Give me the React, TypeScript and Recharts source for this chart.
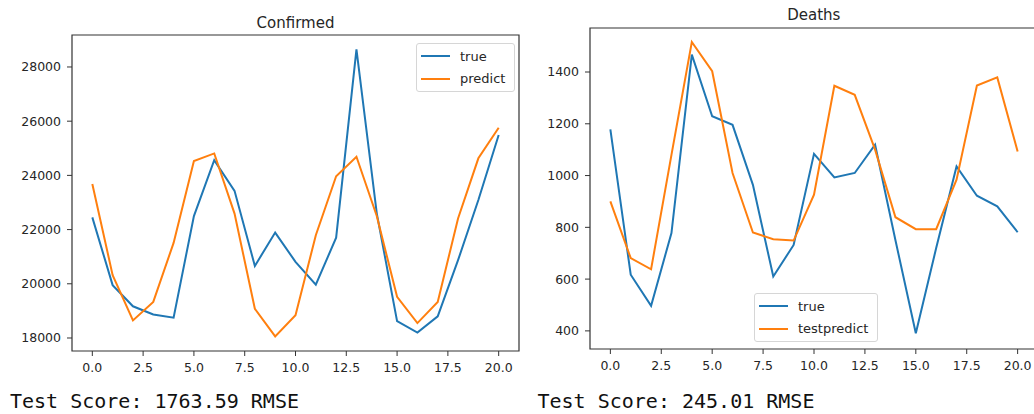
import { LineChart, Line, XAxis, YAxis, Legend, ReferenceArea } from 'recharts'

const steps = [0, 1, 2, 3, 4, 5, 6, 7, 8, 9, 10, 11, 12, 13, 14, 15, 16, 17, 18, 19, 20]
const xTicks = [0, 2.5, 5, 7.5, 10, 12.5, 15, 17.5, 20]

const confirmedTrue = [
  22450, 19950, 19170, 18870, 18750, 22500, 24560, 23430, 20660, 21890, 20810,
  19970, 21700, 28650, 22600, 18620, 18200, 18800, 20870, 23090, 25490,
]
const confirmedPredict = [
  23680, 20320, 18650, 19330, 21510, 24530, 24810, 22590, 19080, 18060, 18840,
  21790, 23970, 24690, 22500, 19520, 18550, 19330, 22410, 24630, 25760,
]
const confirmedTicks = [18000, 20000, 22000, 24000, 26000, 28000]

const deathsTrue = [
  1178, 617, 497, 778, 1467, 1229, 1196, 964, 610, 732, 1084, 993, 1010, 1119,
  750, 391, 720, 1035, 922, 881, 781,
]
const deathsPredict = [
  900, 681, 638, 1080, 1516, 1403, 1010, 780, 754, 749, 926, 1347, 1312, 1100,
  839, 793, 793, 984, 1348, 1379, 1093,
]
const deathsTicks = [400, 600, 800, 1000, 1200, 1400]

const BLUE = '#1f77b4'
const ORANGE = '#ff7f0e'
const INK = '#262626'
const FRAME = '#333'
const FONT = '"DejaVu Sans", sans-serif'
const SERIES_ORDER = ['true', 'predict']

type Row = { x: number; true: number; predict: number }

function buildRows(t: number[], p: number[]): Row[] {
  return steps.map((x, i) => ({ x, true: t[i], predict: p[i] }))
}

function LegendBox({ payload }: { payload?: { value: string; color: string; dataKey?: string }[] }) {
  if (!payload) return null
  // keep matplotlib's plotting order, not the alphabetical one
  const items = [...payload].sort(
    (a, b) => SERIES_ORDER.indexOf(String(a.dataKey)) - SERIES_ORDER.indexOf(String(b.dataKey)),
  )
  return (
    <div
      style={{
        display: 'inline-block',
        background: 'rgba(255,255,255,0.8)',
        border: '1px solid #d6d6d6',
        borderRadius: 3,
        padding: '1px 9px 1px 4px',
        fontFamily: FONT,
        fontSize: 13,
        color: INK,
      }}
    >
      {items.map((item) => (
        <div key={item.value} style={{ display: 'flex', alignItems: 'center', height: 22.6 }}>
          <span style={{ width: 29, height: 2, background: item.color, marginRight: 10 }} />
          <span>{item.value}</span>
        </div>
      ))}
    </div>
  )
}

type PanelProps = {
  left: number
  top: number
  data: Row[]
  domain: [number, number]
  yTicks: number[]
  margin: { top: number; right: number; bottom: number; left: number }
  predictName: string
  legendPos: { left: number; top: number }
}

function Panel({ left, top, data, domain, yTicks, margin, predictName, legendPos }: PanelProps) {
  const tick = { fill: INK, fontSize: 12.5, fontFamily: FONT }
  return (
    <div style={{ position: 'absolute', left, top }}>
      <LineChart width={540} height={390} data={data} margin={margin}>
        <XAxis
          dataKey="x"
          type="number"
          domain={[-1, 21]}
          ticks={xTicks}
          tickFormatter={(v: number) => v.toFixed(1)}
          axisLine={false}
          tickLine={{ stroke: FRAME }}
          tickSize={5}
          tickMargin={7}
          tick={tick}
          height={30}
          interval={0}
        />
        <YAxis
          type="number"
          domain={domain}
          ticks={yTicks}
          axisLine={false}
          tickLine={{ stroke: FRAME }}
          tickSize={5}
          tickMargin={6}
          tick={tick}
          width={60}
          interval={0}
        />
        <ReferenceArea x1={-1} x2={21} y1={domain[0]} y2={domain[1]} fill="none" stroke={FRAME} strokeWidth={1.2} />
        <Line type="linear" dataKey="true" name="true" stroke={BLUE} strokeWidth={2} dot={false} isAnimationActive={false} />
        <Line type="linear" dataKey="predict" name={predictName} stroke={ORANGE} strokeWidth={2} dot={false} isAnimationActive={false} />
        <Legend
          layout="vertical"
          align="center"
          verticalAlign="middle"
          content={<LegendBox />}
          wrapperStyle={{ left: legendPos.left, top: legendPos.top, right: 'auto', bottom: 'auto', width: 'auto', height: 'auto' }}
        />
      </LineChart>
    </div>
  )
}

export default function App() {
  const title = { position: 'absolute' as const, fontFamily: FONT, fontSize: 15, lineHeight: '15px', color: INK, whiteSpace: 'nowrap' as const }
  const score = { position: 'absolute' as const, fontFamily: '"DejaVu Sans Mono", monospace', fontSize: 20, lineHeight: '20px', color: '#111', whiteSpace: 'pre' as const }
  return (
    <div style={{ position: 'absolute', left: 0, top: 0, width: 1034, height: 414, overflow: 'hidden', background: '#fff' }}>
      <Panel
        left={0}
        top={0}
        data={buildRows(confirmedTrue, confirmedPredict)}
        domain={[17520, 29180]}
        yTicks={confirmedTicks}
        margin={{ top: 35, right: 21, bottom: 9, left: 12 }}
        predictName="predict"
        legendPos={{ left: 416, top: 43 }}
      />
      <Panel
        left={520}
        top={0}
        data={buildRows(deathsTrue, deathsPredict)}
        domain={[330, 1570]}
        yTicks={deathsTicks}
        margin={{ top: 28, right: 22, bottom: 11, left: 10 }}
        predictName="testpredict"
        legendPos={{ left: 234, top: 293 }}
      />
      <div style={{ ...title, left: 295.5, top: 15.6, transform: 'translateX(-50%)' }}>Confirmed</div>
      <div style={{ ...title, left: 813.8, top: 8, transform: 'translateX(-50%)' }}>Deaths</div>
      <div style={{ ...score, left: 10, top: 391.4 }}>Test Score: 1763.59 RMSE</div>
      <div style={{ ...score, left: 537.5, top: 391.4 }}>Test Score: 245.01 RMSE</div>
    </div>
  )
}
